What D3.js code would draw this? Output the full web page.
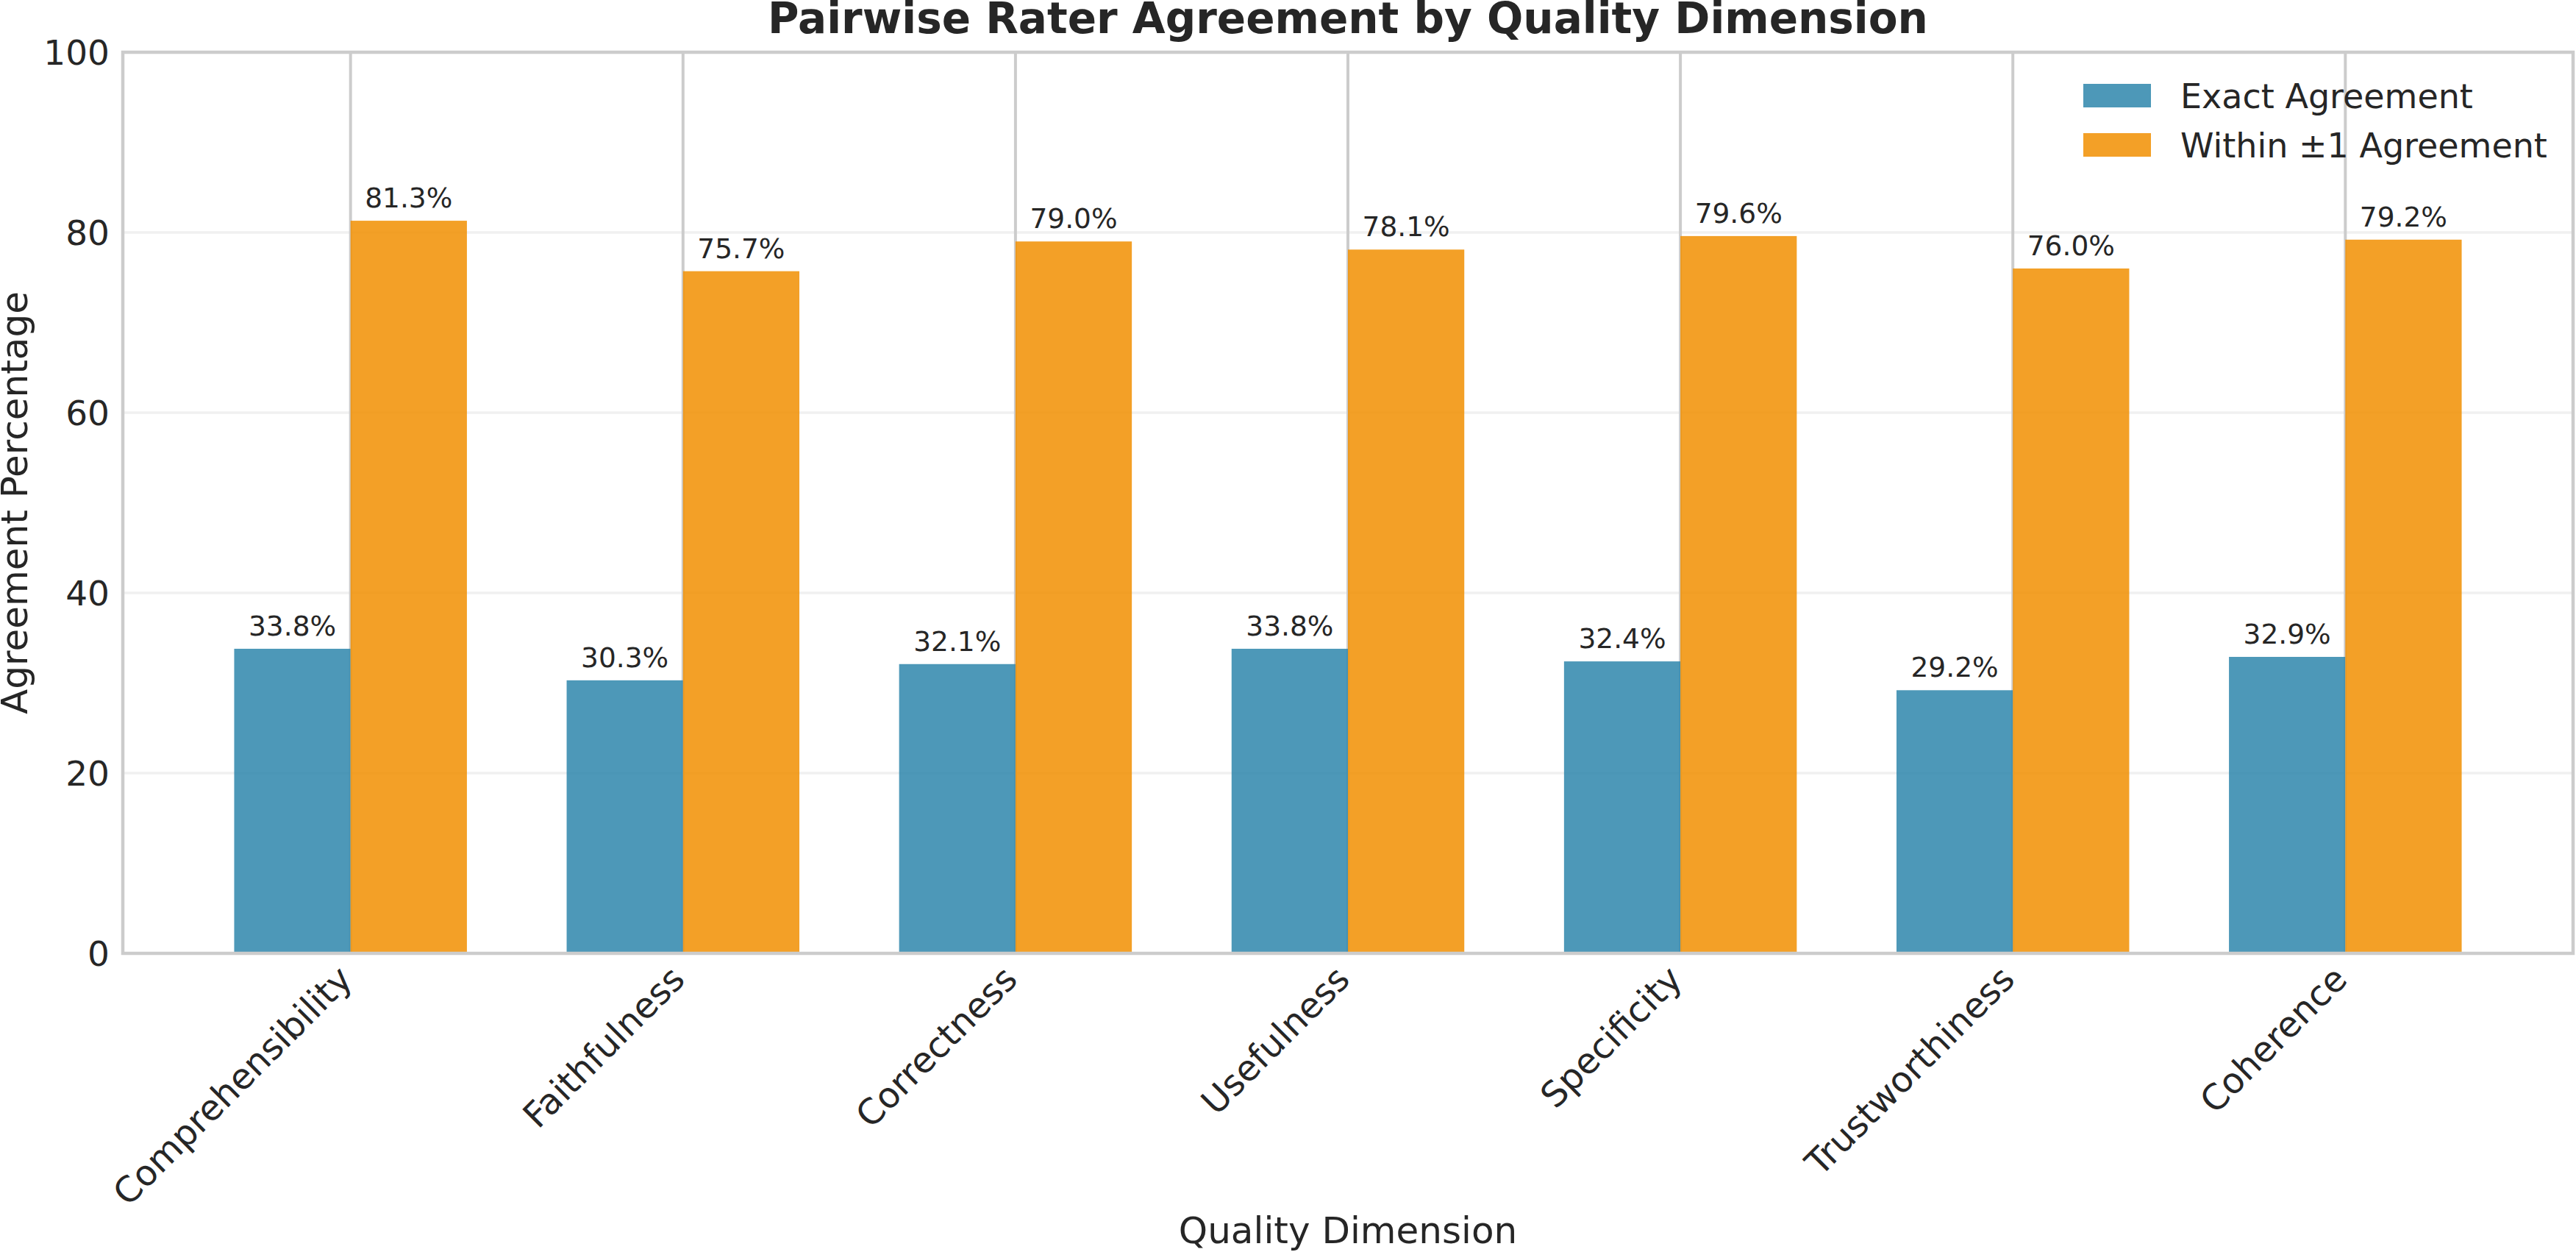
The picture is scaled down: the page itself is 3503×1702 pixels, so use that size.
<!DOCTYPE html>
<html>
<head>
<meta charset="utf-8">
<script src="https://cdn.jsdelivr.net/npm/d3@7"></script>
<style>
  html, body { margin: 0; padding: 0; background: #ffffff; }
  svg { display: block; font-family: "DejaVu Sans", sans-serif; }
</style>
</head>
<body>
<script>
// ---- data ----
const categories = ["Comprehensibility", "Faithfulness", "Correctness", "Usefulness", "Specificity", "Trustworthiness", "Coherence"];
const seriesNames = ["Exact Agreement", "Within \u00b11 Agreement"];
const exactAgreement = [33.8, 30.3, 32.1, 33.8, 32.4, 29.2, 32.9];
const withinOneAgreement = [81.3, 75.7, 79.0, 78.1, 79.6, 76.0, 79.2];
const yTicks = [0, 20, 40, 60, 80, 100];
const seriesColors = ["#2E86AB", "#F18F01"];

const W = 3503, H = 1702;
const margin = { left: 167, right: 4, top: 71, bottom: 406 };
const plotW = W - margin.left - margin.right;
const plotH = H - margin.top - margin.bottom;
const textColor = "#262626";

const svg = d3.select("body").append("svg").attr("width", W).attr("height", H);
const g = svg.append("g").attr("transform", `translate(${margin.left},${margin.top})`);

const x = d3.scaleBand().domain(categories).range([0, plotW]).paddingInner(0).paddingOuter(0.185);
const step = x.step();
const xSub = d3.scaleBand().domain(seriesNames).range([0.15 * step, 0.85 * step]).padding(0);
const y = d3.scaleLinear().domain([0, 100]).range([plotH, 0]);

// horizontal grid (light)
g.append("g").selectAll("line").data(yTicks.filter(d => d > 0 && d < 100)).join("line")
  .attr("x1", 0).attr("x2", plotW)
  .attr("y1", d => y(d)).attr("y2", d => y(d))
  .attr("stroke", "#f0f0f0").attr("stroke-width", 3.5);

// vertical grid
g.append("g").selectAll("line").data(categories).join("line")
  .attr("x1", d => x(d) + step / 2).attr("x2", d => x(d) + step / 2)
  .attr("y1", 0).attr("y2", plotH)
  .attr("stroke", "#cccccc").attr("stroke-width", 4);

// bars
const rows = categories.map((c, i) => ({ cat: c, values: [exactAgreement[i], withinOneAgreement[i]] }));
const groups = g.append("g").selectAll("g").data(rows).join("g")
  .attr("transform", d => `translate(${x(d.cat)},0)`);

groups.selectAll("rect").data(d => d.values.map((v, k) => ({ name: seriesNames[k], v, k }))).join("rect")
  .attr("x", d => xSub(d.name))
  .attr("width", xSub.bandwidth())
  .attr("y", d => y(d.v))
  .attr("height", d => y(0) - y(d.v))
  .attr("fill", d => seriesColors[d.k])
  .attr("fill-opacity", 0.85);

groups.selectAll("text").data(d => d.values.map((v, k) => ({ name: seriesNames[k], v, k }))).join("text")
  .attr("x", d => xSub(d.name) + xSub.bandwidth() / 2)
  .attr("y", d => y(d.v) - 18)
  .attr("text-anchor", "middle")
  .attr("font-size", 37.5)
  .attr("fill", textColor)
  .text(d => d.v.toFixed(1) + "%");

// spines
g.append("rect").attr("x", 0).attr("y", 0).attr("width", plotW).attr("height", plotH)
  .attr("fill", "none").attr("stroke", "#cccccc").attr("stroke-width", 4.5);

// y axis
const yAxis = g.append("g").call(d3.axisLeft(y).tickValues(yTicks).tickSize(0).tickPadding(18));
yAxis.select(".domain").remove();
yAxis.selectAll("text").attr("font-size", 47).attr("fill", textColor)
  .attr("font-family", "DejaVu Sans").attr("dy", "0.35em");

// x axis
const xAxis = g.append("g").attr("transform", `translate(0,${plotH})`)
  .call(d3.axisBottom(x).tickSize(0).tickPadding(0));
xAxis.select(".domain").remove();
xAxis.selectAll("text")
  .attr("font-size", 48).attr("fill", textColor).attr("font-family", "DejaVu Sans")
  .attr("text-anchor", "end").attr("dy", null).attr("y", null)
  .attr("transform", "translate(5,38) rotate(-45)");

// axis titles
svg.append("text").attr("x", margin.left + plotW / 2).attr("y", 1690)
  .attr("text-anchor", "middle").attr("font-size", 50).attr("fill", textColor)
  .text("Quality Dimension");
svg.append("text").attr("transform", `translate(37,${margin.top + plotH / 2}) rotate(-90)`)
  .attr("text-anchor", "middle").attr("font-size", 50).attr("fill", textColor)
  .text("Agreement Percentage");

// title
svg.append("text").attr("x", margin.left + plotW / 2).attr("y", 45)
  .attr("text-anchor", "middle").attr("font-size", 58).attr("font-weight", "bold").attr("fill", textColor)
  .text("Pairwise Rater Agreement by Quality Dimension");

// legend
const legend = svg.append("g").attr("transform", "translate(2833,114)");
const li = legend.selectAll("g").data(seriesNames).join("g")
  .attr("transform", (d, i) => `translate(0,${i * 67})`);
li.append("rect").attr("width", 92).attr("height", 32)
  .attr("fill", (d, i) => seriesColors[i]).attr("fill-opacity", 0.85);
li.append("text").attr("x", 132).attr("y", 33).attr("font-size", 46).attr("fill", textColor)
  .text(d => d);
</script>
</body>
</html>
